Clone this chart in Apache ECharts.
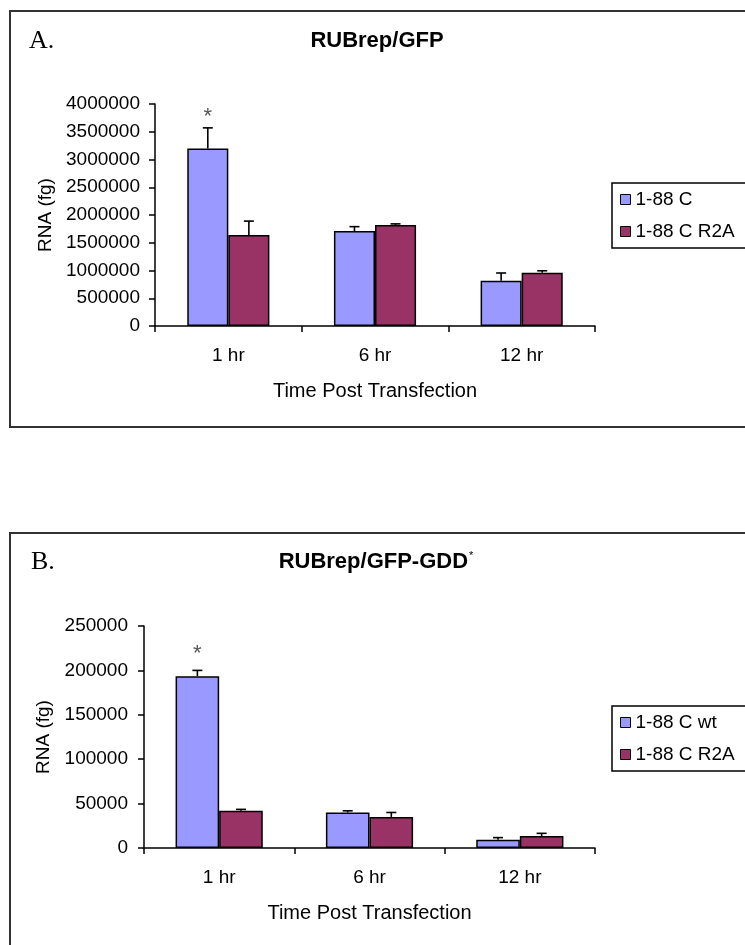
<!DOCTYPE html>
<html>
<head>
<meta charset="utf-8">
<script src="https://cdn.jsdelivr.net/npm/echarts@6/dist/echarts.min.js"></script>
<style>
html,body{margin:0;padding:0;background:#fff;}
#chart{width:745px;height:945px;}
</style>
</head>
<body>
<div id="chart"></div>
<script>
// ---- data ----
var categories = ['1 hr', '6 hr', '12 hr'];

// Panel A: RUBrep/GFP
var seriesNamesA = ['1-88 C', '1-88 C R2A'];
var blueA = [3200000, 1710000, 815000];
var blueErrA = [370000, 80000, 140000];
var redA = [1640000, 1820000, 960000];
var redErrA = [250000, 20000, 35000];
var sigA = ['*', '', ''];
var yTicksA = {min: 0, max: 4000000, interval: 500000};

// Panel B: RUBrep/GFP-GDD*
var seriesNamesB = ['1-88 C wt', '1-88 C R2A'];
var blueB = [193500, 40000, 9400];
var blueErrB = [6500, 1900, 2300];
var redB = [42000, 35000, 13500];
var redErrB = [1500, 5000, 3000];
var sigB = ['*', '', ''];
var yTicksB = {min: 0, max: 250000, interval: 50000};

// ---- style ----
var FONT = '"Liberation Sans", Arial, sans-serif';
var BLUE = '#9999FF';
var RED = '#993366';

function errData(vals, errs, sig) {
  return vals.map(function (v, i) { return [i, v, errs[i], sig ? sig[i] : '']; });
}

function errSeries(idx, vals, errs, sig, side, ratio, markGap) {
  return {
    type: 'custom',
    xAxisIndex: idx, yAxisIndex: idx,
    z: 10,
    silent: true,
    encode: {x: 0, y: 1},
    data: errData(vals, errs, sig),
    renderItem: function (params, api) {
      var base = api.coord([api.value(0), api.value(1)]);
      var top = api.coord([api.value(0), api.value(1) + api.value(2)]);
      var bw = api.size([1, 0])[0] * ratio;
      var x = base[0] + side * bw / 2;
      var st = {stroke: '#000', lineWidth: 1.6};
      var children = [
        {type: 'line', shape: {x1: x, y1: base[1], x2: x, y2: top[1]}, style: st},
        {type: 'line', shape: {x1: x - 5, y1: top[1], x2: x + 5, y2: top[1]}, style: st}
      ];
      var mark = api.value(3);
      if (mark) {
        children.push({type: 'text', style: {text: mark, x: x, y: top[1] - markGap, align: 'center', verticalAlign: 'middle', fill: '#555', font: '22px ' + FONT}});
      }
      return {type: 'group', children: children};
    }
  };
}

function barSeries(idx, name, vals, color, widthPct) {
  return {
    type: 'bar', name: name,
    xAxisIndex: idx, yAxisIndex: idx,
    data: vals,
    barWidth: widthPct,
    barGap: '0%',
    itemStyle: {color: color, borderColor: '#000', borderWidth: 1.5},
    emphasis: {disabled: true}
  };
}

var axisLineStyle = {color: '#000', width: 1.5};

function xAxisDef(idx) {
  return {
    type: 'category', gridIndex: idx, data: categories,
    axisLine: {lineStyle: axisLineStyle},
    axisTick: {show: true, length: 6, lineStyle: axisLineStyle},
    axisLabel: {color: '#000', fontFamily: FONT, fontSize: 19, margin: 20},
    name: 'Time Post Transfection', nameLocation: 'middle', nameGap: 55,
    nameTextStyle: {color: '#000', fontFamily: FONT, fontSize: 20},
    splitLine: {show: false}
  };
}

function yAxisDef(idx, ticks, margin, gap) {
  return {
    type: 'value', gridIndex: idx,
    min: ticks.min, max: ticks.max, interval: ticks.interval,
    axisLine: {show: true, lineStyle: axisLineStyle},
    axisTick: {show: true, length: 6, lineStyle: axisLineStyle},
    axisLabel: {color: '#000', fontFamily: FONT, fontSize: 19, margin: margin, formatter: function (v) { return String(v); }},
    splitLine: {show: false},
    name: 'RNA (fg)', nameLocation: 'middle', nameGap: gap,
    nameTextStyle: {color: '#000', fontFamily: FONT, fontSize: 19}
  };
}

function legendDef(names, top) {
  return {
    data: names, orient: 'vertical', left: 612, top: top,
    itemWidth: 10, itemHeight: 10, itemGap: 13,
    padding: [7, 16, 7, 8],
    borderColor: '#000', borderWidth: 1.5,
    backgroundColor: '#fff',
    icon: 'rect',
    itemStyle: {borderColor: '#000', borderWidth: 1},
    textStyle: {color: '#000', fontFamily: FONT, fontSize: 19},
    selectedMode: false
  };
}

var chart = echarts.init(document.getElementById('chart'), null, {renderer: 'canvas'});
chart.setOption({
  animation: false,
  backgroundColor: '#fff',
  graphic: [
    {type: 'rect', shape: {x: 10, y: 11, width: 760, height: 416}, style: {fill: 'none', stroke: '#333', lineWidth: 2}, z: -1},
    {type: 'rect', shape: {x: 10, y: 533, width: 760, height: 430}, style: {fill: 'none', stroke: '#333', lineWidth: 2}, z: -1}
  ],
  title: [
    {text: 'RUBrep/GFP', left: 377, top: 29, textAlign: 'center', padding: 0,
      textStyle: {fontFamily: FONT, fontSize: 22, fontWeight: 'bold', color: '#000', lineHeight: 24}},
    {text: 'RUBrep/GFP-GDD{sup|*}', left: 376, top: 550, textAlign: 'center', padding: 0,
      textStyle: {fontFamily: FONT, fontSize: 22, fontWeight: 'bold', color: '#000', lineHeight: 24,
        rich: {sup: {fontFamily: FONT, fontSize: 11, fontWeight: 'normal', color: '#000', verticalAlign: 'top', lineHeight: 24, padding: [0, 0, 12, 1]}}}},
    {text: 'A.', left: 29, top: 28, padding: 0,
      textStyle: {fontFamily: '"Liberation Serif", "Times New Roman", serif', fontSize: 26, fontWeight: 'normal', color: '#000', lineHeight: 26}},
    {text: 'B.', left: 31, top: 549, padding: 0,
      textStyle: {fontFamily: '"Liberation Serif", "Times New Roman", serif', fontSize: 26, fontWeight: 'normal', color: '#000', lineHeight: 26}}
  ],
  legend: [legendDef(seriesNamesA, 183), legendDef(seriesNamesB, 706)],
  grid: [
    {left: 155, top: 104, width: 440, height: 222},
    {left: 144, top: 626, width: 451, height: 222}
  ],
  xAxis: [xAxisDef(0), xAxisDef(1)],
  yAxis: [yAxisDef(0, yTicksA, 15, 100), yAxisDef(1, yTicksB, 16, 89)],
  series: [
    barSeries(0, seriesNamesA[0], blueA, BLUE, '28%'),
    barSeries(0, seriesNamesA[1], redA, RED, '28%'),
    errSeries(0, blueA, blueErrA, sigA, -1, 0.28, 11),
    errSeries(0, redA, redErrA, null, 1, 0.28, 11),
    barSeries(1, seriesNamesB[0], blueB, BLUE, '29%'),
    barSeries(1, seriesNamesB[1], redB, RED, '29%'),
    errSeries(1, blueB, blueErrB, sigB, -1, 0.29, 16),
    errSeries(1, redB, redErrB, null, 1, 0.29, 16)
  ]
});
</script>
</body>
</html>
